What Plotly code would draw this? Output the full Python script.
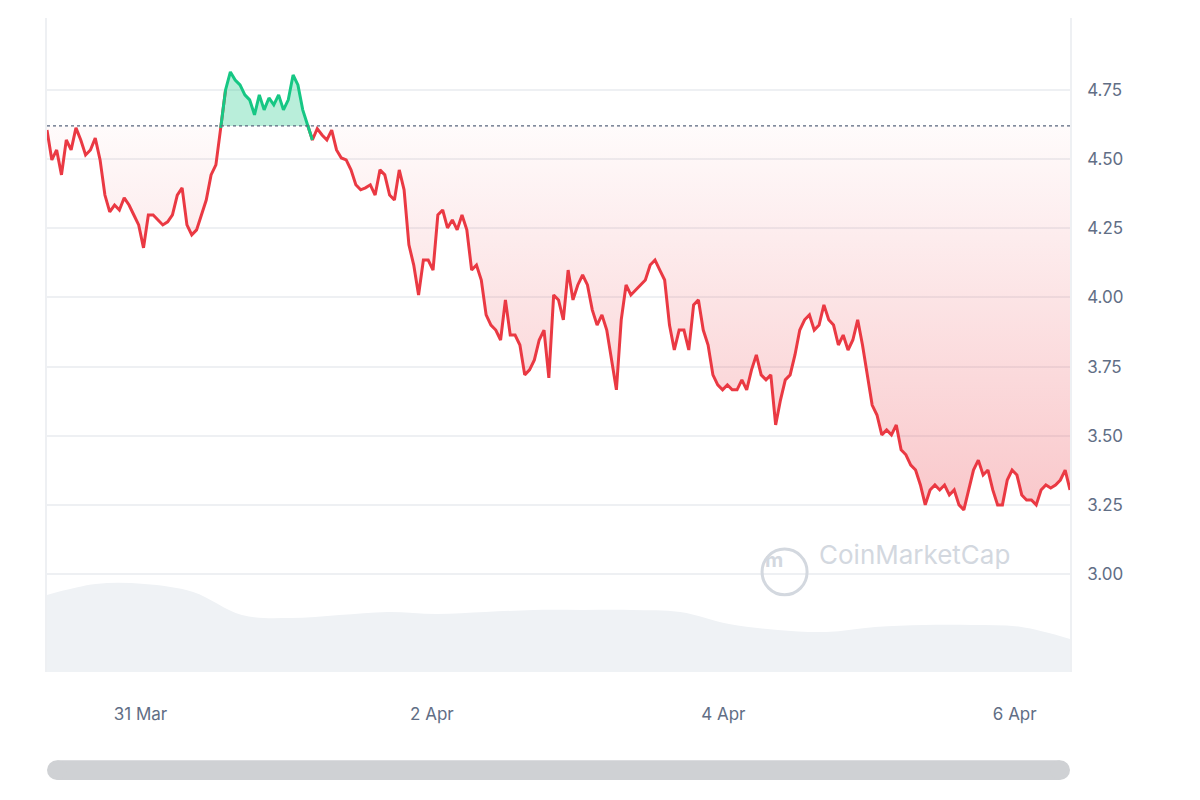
import plotly.graph_objects as go
import pandas as pd
import numpy as np

price = [4.605,4.497,4.533,4.443,4.569,4.533,4.613,4.569,4.515,4.533,4.576,4.497,4.370,4.309,4.334,4.316,4.360,4.334,4.298,4.262,
4.179,4.298,4.298,4.280,4.262,4.273,4.298,4.370,4.396,4.262,4.226,4.244,4.298,4.352,4.443,4.479,4.613,4.750,4.815,4.786,
4.768,4.732,4.714,4.660,4.732,4.678,4.721,4.696,4.732,4.678,4.714,4.804,4.768,4.678,4.623,4.569,4.610,4.587,4.569,4.605,
4.533,4.504,4.497,4.461,4.407,4.389,4.396,4.407,4.370,4.461,4.443,4.370,4.352,4.461,4.389,4.190,4.117,4.009,4.135,4.135,
4.099,4.298,4.316,4.251,4.280,4.244,4.298,4.244,4.099,4.117,4.063,3.937,3.900,3.882,3.846,3.991,3.864,3.864,3.828,3.720,
3.738,3.774,3.846,3.882,3.709,4.009,3.991,3.919,4.099,3.991,4.045,4.081,4.045,3.955,3.900,3.937,3.882,3.774,3.666,3.919,
4.045,4.009,4.027,4.045,4.063,4.117,4.135,4.099,4.063,3.900,3.810,3.882,3.882,3.810,3.973,3.991,3.882,3.828,3.720,3.684,
3.666,3.684,3.666,3.666,3.702,3.666,3.738,3.792,3.720,3.702,3.720,3.539,3.629,3.702,3.720,3.792,3.882,3.919,3.937,3.882,
3.900,3.973,3.919,3.900,3.828,3.864,3.810,3.846,3.919,3.828,3.720,3.611,3.575,3.503,3.521,3.503,3.539,3.449,3.431,3.394,
3.376,3.322,3.250,3.304,3.322,3.304,3.322,3.286,3.304,3.250,3.232,3.304,3.376,3.412,3.358,3.376,3.304,3.250,3.250,3.340,
3.376,3.358,3.286,3.268,3.268,3.250,3.304,3.322,3.311,3.322,3.340,3.376,3.304]
volume = [77,88,88,80,57,54,57,60,58,60,62,62,62,60,48,42,40,45,47,47,45,33]
baseline = 4.62
start, end = "2025-03-30 08:36", "2025-04-06 09:06"
yticks = [3.00, 3.25, 3.50, 3.75, 4.00, 4.25, 4.50, 4.75]

t = pd.date_range(start, end, periods=len(price))
tv = pd.date_range(start, end, periods=len(volume))
p = np.array(price)
RED, GREEN = "#ea3943", "#16c784"

fig = go.Figure()
fig.add_trace(go.Scatter(x=tv, y=volume, yaxis="y2", mode="lines", line=dict(width=0, shape="spline"),
                         fill="tozeroy", fillcolor="#eff2f5", hoverinfo="skip"))
fig.add_trace(go.Scatter(x=t, y=[baseline]*len(p), mode="lines", line=dict(width=0), hoverinfo="skip"))
fig.add_trace(go.Scatter(x=t, y=np.minimum(p, baseline), mode="lines", line=dict(width=0), fill="tonexty",
                         fillgradient=dict(type="vertical", colorscale=[[0, "rgba(234,57,67,0.28)"], [1, "rgba(234,57,67,0.02)"]]),
                         hoverinfo="skip"))
fig.add_trace(go.Scatter(x=t, y=[baseline]*len(p), mode="lines", line=dict(width=0), hoverinfo="skip"))
fig.add_trace(go.Scatter(x=t, y=np.maximum(p, baseline), mode="lines", line=dict(width=0), fill="tonexty",
                         fillcolor="rgba(22,199,132,0.3)", hoverinfo="skip"))
above = p > baseline
red = [v if (not above[i] or (i > 0 and not above[i-1]) or (i < len(p)-1 and not above[i+1])) else None for i, v in enumerate(p)]
green = [v if (above[i] or (i > 0 and above[i-1]) or (i < len(p)-1 and above[i+1])) else None for i, v in enumerate(p)]
fig.add_trace(go.Scatter(x=t, y=red, mode="lines", line=dict(color=RED, width=3)))
fig.add_trace(go.Scatter(x=t, y=green, mode="lines", line=dict(color=GREEN, width=3)))

fig.add_shape(type="line", xref="paper", x0=0, x1=1, y0=baseline, y1=baseline,
              line=dict(color="#58667e", width=1.2, dash="dot"))
# scrollbar (rounded)
fig.add_shape(type="rect", xref="paper", yref="paper", x0=0.01, x1=0.99, y0=-0.165, y1=-0.135,
              fillcolor="#cfd1d4", line=dict(width=0), layer="above")
fig.add_shape(type="circle", xref="paper", yref="paper", x0=0, x1=0.0195, y0=-0.165, y1=-0.135,
              fillcolor="#cfd1d4", line=dict(width=0), layer="above")
fig.add_shape(type="circle", xref="paper", yref="paper", x0=0.9805, x1=1, y0=-0.165, y1=-0.135,
              fillcolor="#cfd1d4", line=dict(width=0), layer="above")
fig.add_shape(type="circle", xref="paper", yref="paper", x0=0.699, x1=0.743, y0=0.118, y1=0.188,
              line=dict(color="#d3d8df", width=3))
fig.add_annotation(xref="paper", yref="paper", x=0.721, y=0.150, showarrow=False,
                   text="<b>m</b>", font=dict(size=20, color="#d3d8df", family="Inter"))
fig.add_annotation(xref="paper", yref="paper", x=0.753, y=0.153, xanchor="left", showarrow=False,
                   text="CoinMarketCap", font=dict(size=26, color="#d3d8df", family="Inter"))

fig.update_layout(
    width=1200, height=800, margin=dict(l=39, r=138, t=10, b=136),
    plot_bgcolor="white", paper_bgcolor="white", showlegend=False,
    font=dict(family="Inter", size=17, color="#616e85"),
    xaxis=dict(type="date", range=[start, end], tickformat="%-d %b", dtick=2*86400000,
               tick0="2025-03-31", showgrid=False, ticks="", showline=False, zeroline=False, ticklabelstandoff=30),
    yaxis=dict(side="right", range=[2.646, 5.010], tickvals=yticks, tickformat=".2f",
               showgrid=True, gridcolor="#eef0f3", gridwidth=1.5, zeroline=False,
               showline=True, linecolor="#eef0f3", linewidth=1.5, mirror=True, ticklabelstandoff=12),
    yaxis2=dict(overlaying="y", range=[0, 654], visible=False),
)
fig.write_html("out.html")
